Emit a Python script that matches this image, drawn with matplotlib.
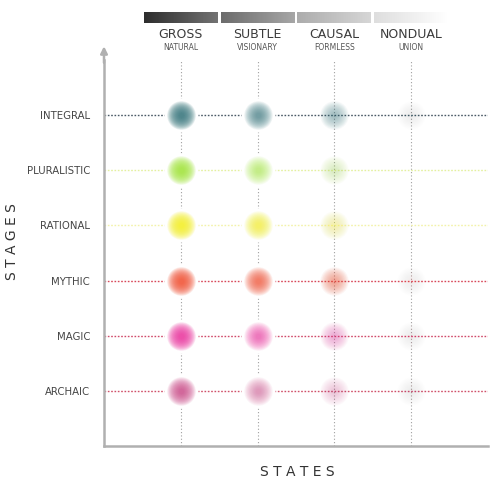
import matplotlib.pyplot as plt
import numpy as np
from matplotlib.colors import to_rgb

# states (columns) and stages (rows)
states = ["GROSS", "SUBTLE", "CAUSAL", "NONDUAL"]
state_subs = ["NATURAL", "VISIONARY", "FORMLESS", "UNION"]
stages = ["ARCHAIC", "MAGIC", "MYTHIC", "RATIONAL", "PLURALISTIC", "INTEGRAL"]
stage_colors = ["#c8387e", "#ec2f9c", "#f24a2a", "#f4f01c", "#9ee632", "#2f7078"]
line_colors = ["#d0506a", "#d04a6a", "#d8485a", "#f2f2a8", "#e4f0a0", "#4a5a66"]
# blob strength per stage (rows) x state (columns)
strength = [
    [0.80, 0.40, 0.18, 0.03],  # archaic
    [1.00, 0.55, 0.25, 0.06],  # magic
    [1.00, 0.70, 0.35, 0.05],  # mythic
    [1.00, 0.60, 0.20, 0.02],  # rational
    [1.00, 0.50, 0.18, 0.02],  # pluralistic
    [1.00, 0.60, 0.30, 0.06],  # integral
]
bar_ranges = [("#2e2e2e", "#727272"), ("#6c6c6c", "#a6a6a6"),
              ("#acacac", "#d6d6d6"), ("#dedede", "#ffffff")]

fig = plt.figure(figsize=(5, 4.87), dpi=100)
ax = fig.add_axes([104 / 500, 41 / 487, 384 / 500, 386 / 487])
ax.set_xlim(0, 5)
ax.set_ylim(0, 7)

xs = np.arange(1, len(states) + 1)
ys = np.arange(1, len(stages) + 1)

# grid lines
for x in xs:
    ax.plot([x, x], [0, 7.05], color="#a0a0a0", lw=0.8, ls=(0, (1, 2)), zorder=1)
for y, lc in zip(ys, line_colors):
    ax.plot([0, 5], [y, y], color=lc, lw=1.0, ls=(0, (1.2, 1.2)), zorder=1)

# blurred dots: white halo then layered circles
n_layers = 18
for i, y in enumerate(ys):
    rgb = to_rgb(stage_colors[i])
    for j, x in enumerate(xs):
        s = strength[i][j]
        if j < 2:
            ax.scatter([x], [y], s=600, color="white", lw=0, zorder=2)
        for k in range(n_layers):
            frac = 1 - k / n_layers
            ax.scatter([x], [y], s=420 * frac ** 1.5 + 8, color=rgb,
                       alpha=min(1, 0.09 * s), lw=0, zorder=3)

# axes styling
for sp in ["top", "right"]:
    ax.spines[sp].set_visible(False)
for sp in ["left", "bottom"]:
    ax.spines[sp].set_color("#b0b0b0")
    ax.spines[sp].set_linewidth(1.8)
ax.set_xticks([])
ax.set_yticks(ys)
ax.set_yticklabels(stages, fontsize=7.3, color="#444444")
ax.tick_params(axis="y", length=0, pad=10)
ax.annotate("", xy=(0, 7.3), xytext=(0, 6.9), xycoords="data",
            arrowprops=dict(arrowstyle="-|>", color="#b0b0b0", lw=1.8,
                            mutation_scale=10), annotation_clip=False)

fig.text(297 / 500, 1 - 472 / 487, "S T A T E S", ha="center", va="center",
         fontsize=10, color="#333333")
fig.text(12 / 500, 1 - 242 / 487, "S T A G E S", ha="center", va="center",
         fontsize=10, color="#333333", rotation=90)

# header: gradient bars and state names
hdr = fig.add_axes([0, 1 - 23 / 487, 1, 11 / 487])
hdr.axis("off")
for j, (c0, c1) in enumerate(bar_ranges):
    cx = 104 + xs[j] * 384 / 5
    left, right = cx - 37, cx + 37
    grad = np.linspace(0, 1, 64)
    img = np.array([to_rgb(c0)]) * (1 - grad[:, None]) + np.array([to_rgb(c1)]) * grad[:, None]
    hdr.imshow(img[None, :, :], extent=[left, right, 0, 1], aspect="auto")
    fig.text(cx / 500, 1 - 34 / 487, states[j], ha="center", va="center",
             fontsize=9, color="#3a3a3a")
    fig.text(cx / 500, 1 - 47.5 / 487, state_subs[j], ha="center", va="center",
             fontsize=5.5, color="#555555")
hdr.set_xlim(0, 500)
hdr.set_ylim(0, 1)

fig.savefig("out.png", dpi=100, facecolor="white")
